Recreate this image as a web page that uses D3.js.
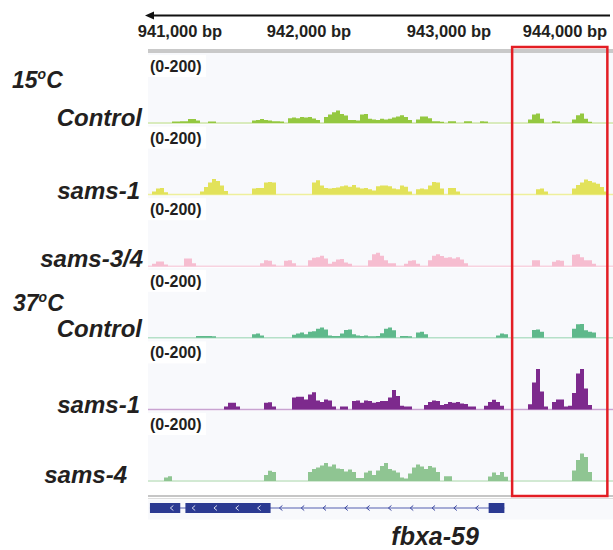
<!DOCTYPE html>
<html>
<head>
<meta charset="utf-8">
<script src="https://cdn.jsdelivr.net/npm/d3@7"></script>
<style>
  body { margin: 0; background: #fff; }
  text { font-family: "Liberation Sans", Arial, sans-serif; fill: #231f20; }
</style>
</head>
<body>
<div id="viz"></div>
<script>
// Genome window, binned coverage (reads, scale 0-200)
const START = 940750;
const BIN = 31;
const NBINS = 116;

const tickValues = [941000, 942000, 943000, 944000];
const tickPx = [180, 309, 449, 565]; // where the labels sit in the figure

const trackNames = ["Control", "sams-1", "sams-3/4", "Control", "sams-1", "sams-4"];
const groupNames = ["15", "37"];
const trackColors = ["#94c840", "#e2e25a", "#f6bdd0", "#5fb98b", "#7d2a8d", "#8fc592"];
const baseColors = ["#cfe6a8", "#eef09c", "#f8d3e0", "#b5e0c8", "#c9a3d1", "#c6e3c6"];
const dataRange = "(0-200)";

const control15 = [
  0,0,0,0,0,0,5,5,6,6,
  13,13,8,0,0,5,5,0,0,0,
  0,0,0,0,0,0,8,10,13,10,
  8,6,6,5,0,16,18,16,20,18,
  20,15,10,0,20,28,36,42,30,25,
  10,10,8,28,30,14,12,10,14,12,
  14,18,22,26,20,10,0,12,22,22,
  16,6,6,4,0,6,6,0,0,6,
  6,0,0,6,5,0,0,0,0,0,
  0,0,0,0,0,12,28,32,14,0,
  0,6,5,0,0,0,12,26,32,14,
  4,0,0,0,0,0
];
const sams1_15 = [
  0,10,20,22,8,0,0,0,0,0,
  0,0,0,10,25,40,52,45,30,12,
  0,0,0,0,0,0,20,22,22,40,
  42,40,0,0,0,0,0,0,0,0,
  0,40,48,30,22,20,22,24,28,30,
  26,32,24,20,22,18,14,28,30,30,
  28,20,18,30,26,10,0,18,20,18,
  30,42,40,20,0,22,22,10,0,0,
  0,0,0,0,0,0,0,0,0,0,
  0,0,0,0,0,0,0,18,20,10,
  0,0,0,0,0,0,20,32,40,50,
  45,40,36,25,10,0
];
const sams34_15 = [
  0,8,16,16,6,0,0,0,0,26,
  26,10,0,0,0,0,0,0,0,0,
  0,0,0,0,0,0,0,0,10,20,
  18,6,0,0,18,20,10,0,0,0,
  20,28,30,35,26,8,15,22,24,12,
  8,0,0,0,0,20,40,45,35,20,
  10,10,0,0,8,18,20,8,0,0,
  20,35,40,34,28,30,26,30,22,10,
  0,0,0,0,0,0,0,0,0,0,
  0,0,0,0,0,0,20,20,0,0,
  0,15,20,18,0,0,38,40,30,20,
  20,8,0,0,0,0
];
const control37 = [
  0,0,0,0,0,0,0,0,0,0,
  0,0,6,6,6,6,5,0,0,0,
  0,0,0,0,0,0,12,14,8,0,
  0,0,0,0,0,0,10,14,18,12,
  20,22,30,34,28,8,6,6,14,26,
  28,12,8,6,8,5,5,6,15,30,
  34,25,0,6,6,5,0,18,20,12,
  0,0,0,0,0,0,0,0,0,0,
  0,0,0,0,0,0,0,8,14,12,
  0,0,0,0,0,0,26,28,20,0,
  0,0,0,0,0,0,30,45,46,25,
  20,18,0,0,0,0
];
const sams1_37 = [
  0,0,0,0,0,0,0,0,0,0,
  0,0,0,0,0,0,0,0,0,10,
  22,22,10,0,0,0,0,0,0,22,
  24,10,0,0,0,0,40,42,42,33,
  50,57,30,25,33,30,10,0,10,10,
  0,28,30,22,30,28,22,25,28,28,
  40,65,45,12,10,10,0,0,0,15,
  25,30,28,15,18,25,22,25,20,18,
  10,10,0,0,12,25,32,25,12,0,
  0,0,0,0,0,17,90,135,60,10,
  0,25,33,33,10,12,55,120,135,70,
  15,0,0,0,0,0
];
const sams4_37 = [
  0,0,0,0,12,16,0,0,0,0,
  0,0,0,0,0,0,0,0,0,0,
  0,0,0,0,0,0,0,0,0,20,
  34,30,0,0,0,0,0,0,0,0,
  30,40,45,52,60,48,55,42,40,32,
  38,30,10,10,28,34,20,35,50,60,
  40,35,28,12,8,25,45,55,48,40,
  50,45,30,0,16,16,0,0,0,0,
  0,0,0,0,0,15,28,20,30,14,
  0,0,0,0,0,0,0,0,0,0,
  0,0,0,0,0,0,35,70,92,80,
  30,0,0,0,0,0
];
const coverage = [control15, sams1_15, sams34_15, control37, sams1_37, sams4_37];

// fbxa-59 gene model (bp)
const geneName = "fbxa-59";
const geneSpan = [940765, 943512];
const exons = [[940765, 941000], [941040, 941700], [943390, 943512]];
const geneLabelAt = 942975;
const highlight = [943572, 944310];

// layout
const W = 613, H = 550;
const left = 148, right = 613;
const trackTop = 53, trackH = 71.6, baseOff = 70, barH = 60;
const labelRight = [142, 140, 143, 142, 140, 127];
const labelBase = [126, 199, 267, 337, 413, 483];
const groupPos = [[12, 88], [13, 311]];

const svg = d3.select("#viz").append("svg")
  .attr("width", W).attr("height", H);

svg.append("rect").attr("width", W).attr("height", H).attr("fill", "#fff");

const x = d3.scaleLinear()
  .domain([START, START + NBINS * BIN])
  .range([left, 612]);

// ruler: arrow, labels, grey band
svg.append("line")
  .attr("x1", 152).attr("x2", 610)
  .attr("y1", 15.5).attr("y2", 15.5)
  .attr("stroke", "#111").attr("stroke-width", 2);
svg.append("path")
  .attr("d", "M145,15.5 L154,11.5 L154,19.5 Z")
  .attr("fill", "#111");

const tickScale = d3.scaleLinear().domain(tickValues).range(tickPx);
svg.selectAll(".tick-label")
  .data(tickValues)
  .join("text")
  .attr("class", "tick-label")
  .attr("x", d => tickScale(d))
  .attr("y", 37)
  .attr("text-anchor", "middle")
  .style("font-size", "16.5px")
  .style("font-weight", "bold")
  .text(d => d3.format(",")(d) + " bp");

svg.append("rect")
  .attr("x", left).attr("y", 49)
  .attr("width", right - left).attr("height", 4)
  .attr("fill", "#c9c9c9");

// coverage tracks
coverage.forEach((vals, i) => {
  const top = trackTop + i * trackH;
  const base = top + baseOff;
  const y = d3.scaleLinear().domain([0, 200]).range([base, base - barH]);

  const g = svg.append("g").attr("class", "track");

  g.append("rect")
    .attr("x", left).attr("y", top)
    .attr("width", right - left).attr("height", baseOff + 1)
    .attr("fill", "#f8f9fc");

  g.append("line")
    .attr("x1", left).attr("x2", right)
    .attr("y1", base).attr("y2", base)
    .attr("stroke", baseColors[i]).attr("stroke-width", 1.5);

  const pts = vals.map((v, k) => ({ bp: START + k * BIN, v: v }));
  pts.push({ bp: START + NBINS * BIN, v: 0 });

  const area = d3.area()
    .curve(d3.curveStepAfter)
    .x(d => x(d.bp))
    .y0(base)
    .y1(d => y(d.v));

  g.append("path")
    .datum(pts)
    .attr("d", area)
    .attr("fill", trackColors[i]);

  g.append("rect")
    .attr("x", left).attr("y", top + 2)
    .attr("width", 58).attr("height", 22)
    .attr("fill", "#fff");
  g.append("text")
    .attr("x", left + 2).attr("y", top + 19)
    .style("font-size", "16px")
    .style("font-weight", "bold")
    .text(dataRange);

  svg.append("text")
    .attr("x", labelRight[i]).attr("y", labelBase[i])
    .attr("text-anchor", "end")
    .style("font-size", "24px")
    .style("font-weight", "bold")
    .style("font-style", "italic")
    .text(trackNames[i]);
});

// temperature group labels
groupNames.forEach((t, i) => {
  const txt = svg.append("text")
    .attr("x", groupPos[i][0]).attr("y", groupPos[i][1])
    .style("font-size", "23px")
    .style("font-weight", "bold")
    .style("font-style", "italic");
  txt.append("tspan").text(t);
  txt.append("tspan").attr("dy", -9).style("font-size", "14px").text("o");
  txt.append("tspan").attr("dy", 9).text("C");
});

// gene track
svg.append("line")
  .attr("x1", left).attr("x2", right)
  .attr("y1", 496).attr("y2", 496)
  .attr("stroke", "#b3b3b3").attr("stroke-width", 1.5);
svg.append("line")
  .attr("x1", left).attr("x2", right)
  .attr("y1", 498.5).attr("y2", 498.5)
  .attr("stroke", "#dedede").attr("stroke-width", 1);
svg.append("rect")
  .attr("x", left).attr("y", 499.5)
  .attr("width", right - left).attr("height", 20)
  .attr("fill", "#f8f9fc");

const geneY = 508;
svg.append("line")
  .attr("x1", x(geneSpan[0])).attr("x2", x(geneSpan[1]))
  .attr("y1", geneY).attr("y2", geneY)
  .attr("stroke", "#5560b0").attr("stroke-width", 1.2);

const chevrons = d3.range(geneSpan[0] + 170, geneSpan[1] - 100, 169);
svg.selectAll(".chev")
  .data(chevrons)
  .join("path")
  .attr("class", "chev")
  .attr("d", d => `M${x(d) + 1.5},${geneY - 2.5} L${x(d) - 1.5},${geneY} L${x(d) + 1.5},${geneY + 2.5}`)
  .attr("fill", "none")
  .attr("stroke", "#3a46a0")
  .attr("stroke-width", 1);

svg.selectAll(".exon")
  .data(exons)
  .join("rect")
  .attr("class", "exon")
  .attr("x", d => x(d[0]))
  .attr("width", d => x(d[1]) - x(d[0]))
  .attr("y", geneY - 5).attr("height", 10)
  .attr("fill", "#2b3a92");

svg.selectAll(".chev-in")
  .data(chevrons.filter(c => exons.some(e => c > e[0] + 20 && c < e[1] - 20)))
  .join("path")
  .attr("class", "chev-in")
  .attr("d", d => `M${x(d) + 1.5},${geneY - 2.5} L${x(d) - 1.5},${geneY} L${x(d) + 1.5},${geneY + 2.5}`)
  .attr("fill", "none")
  .attr("stroke", "#d8dcf0")
  .attr("stroke-width", 1);

svg.append("text")
  .attr("x", x(geneLabelAt)).attr("y", 545)
  .attr("text-anchor", "middle")
  .style("font-size", "25px")
  .style("font-weight", "bold")
  .style("font-style", "italic")
  .text(geneName);

// highlighted region
svg.append("rect")
  .attr("x", x(highlight[0])).attr("y", 47)
  .attr("width", x(highlight[1]) - x(highlight[0]))
  .attr("height", 449)
  .attr("fill", "none")
  .attr("stroke", "#e31e24")
  .attr("stroke-width", 2.5);
</script>
</body>
</html>
